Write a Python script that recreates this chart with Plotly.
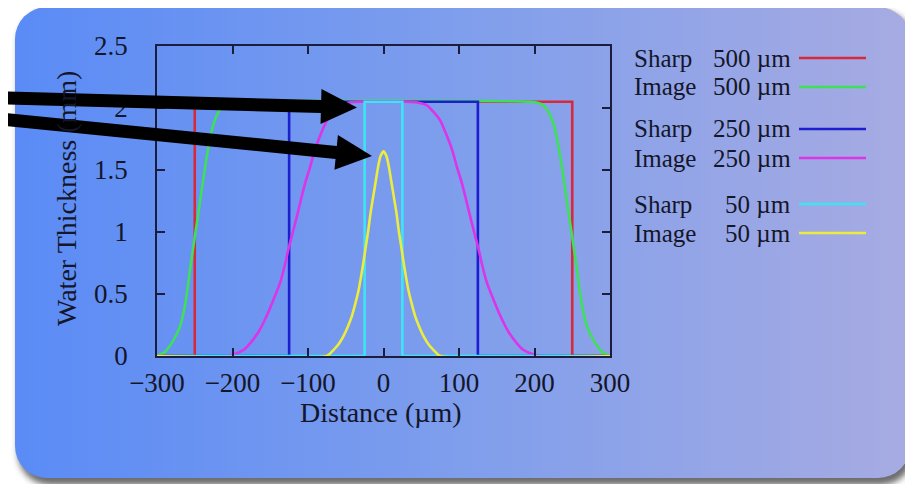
import base64
import math
import plotly.graph_objects as go

# ---------------- data ----------------
series_names = ["Sharp", "Image", "Sharp", "Image", "Sharp", "Image"]
series_sizes = ["500 µm", "500 µm", "250 µm", "250 µm", "50 µm", "50 µm"]
series_colors = ["#d8283c", "#3ee05a", "#1c1ed0", "#dc34e8", "#3ee4f4", "#ecec3c"]

sharp500_x = [-300, -250, -250, 250, 250, 300]
sharp500_y = [0, 0, 2.05, 2.05, 0, 0]

image500_x = [-300, -290, -280, -270, -262, -255, -248, -241, -234, -227, -220, -212, -205, -195,
              195, 205, 212, 220, 227, 234, 241, 248, 255, 262, 270, 280, 290, 300]
image500_y = [0.00, 0.03, 0.11, 0.23, 0.44, 0.75, 1.04, 1.33, 1.61, 1.83, 1.95, 2.02, 2.04, 2.05,
              2.05, 2.04, 2.02, 1.95, 1.83, 1.61, 1.33, 1.04, 0.75, 0.44, 0.23, 0.11, 0.03, 0.00]

sharp250_x = [-300, -125, -125, 125, 125, 300]
sharp250_y = [0, 0, 2.05, 2.05, 0, 0]

image250_x = [-300, -210, -195, -185, -177, -165, -155, -146, -137, -130, -126, -120, -115, -109,
              -104, -97, -91, -83, -75, -66, -58, -45, -30,
              30, 45, 58, 66, 75, 83, 91, 97, 104, 109, 115, 120, 126, 130, 137, 146, 155, 165,
              177, 185, 195, 210, 300]
image250_y = [0.00, 0.00, 0.02, 0.05, 0.10, 0.20, 0.32, 0.45, 0.59, 0.75, 0.86, 1.00, 1.12, 1.27,
              1.39, 1.53, 1.66, 1.79, 1.90, 1.97, 2.02, 2.045, 2.05,
              2.05, 2.045, 2.02, 1.97, 1.90, 1.79, 1.66, 1.53, 1.39, 1.27, 1.12, 1.00, 0.86, 0.75,
              0.59, 0.45, 0.32, 0.20, 0.10, 0.05, 0.02, 0.00, 0.00]

sharp50_x = [-300, -25, -25, 25, 25, 300]
sharp50_y = [0, 0, 2.05, 2.05, 0, 0]

image50_x = [-300, -75, -66, -60, -53, -47, -42, -37, -33, -30, -27, -23, -20, -17, -13.5, -10,
             -7, -4, 0, 4, 7, 10, 13.5, 17, 20, 23, 27, 30, 33, 37, 42, 47, 53, 60, 66, 75, 300]
image50_y = [0.00, 0.00, 0.05, 0.09, 0.16, 0.24, 0.32, 0.43, 0.53, 0.63, 0.74, 0.90, 1.02, 1.16,
             1.29, 1.42, 1.53, 1.61, 1.65, 1.61, 1.53, 1.42, 1.29, 1.16, 1.02, 0.90, 0.74, 0.63,
             0.53, 0.43, 0.32, 0.24, 0.16, 0.09, 0.05, 0.00, 0.00]

x_tickvals = [-300, -200, -100, 0, 100, 200, 300]
x_ticktext = ["\u2212300", "\u2212200", "\u2212100", "0", "100", "200", "300"]
y_tickvals = [0, 0.5, 1, 1.5, 2, 2.5]
y_ticktext = ["0", "0.5", "1", "1.5", "2", "2.5"]

x_title = "Distance (µm)"
y_title = "Water Thickness (mm)"

# ---------------- layout geometry (screen pixels) ----------------
W, H = 913, 484
L, R, T, B = 157, 610, 46, 356
BODY = 8  # default page margin around the plot div


def px2x(px):
    return (px - L) / (R - L)


def px2y(py):
    return (B - py) / (B - T)


FONT = "Liberation Serif"
TXT = "#14162a"

fig = go.Figure()

xs = [sharp500_x, image500_x, sharp250_x, image250_x, sharp50_x, image50_x]
ys = [sharp500_y, image500_y, sharp250_y, image250_y, sharp50_y, image50_y]
for i, (x, y) in enumerate(zip(xs, ys)):
    smooth = series_names[i] == "Image"
    fig.add_trace(go.Scatter(
        x=x, y=y, mode="lines",
        name=f"{series_names[i]} {series_sizes[i]}",
        line=dict(color=series_colors[i], width=2.6,
                  shape="spline" if smooth else "linear",
                  smoothing=0.6 if smooth else None),
        showlegend=False, hoverinfo="skip"))

# background panel as an SVG image (gradient rounded rectangle with shadow)
svg = f"""<svg xmlns='http://www.w3.org/2000/svg' width='{W}' height='{H}' viewBox='0 0 {W} {H}'>
<defs>
<linearGradient id='g' x1='0' x2='1' y1='0' y2='0'>
<stop offset='0' stop-color='#5a8bf6'/>
<stop offset='0.5' stop-color='#7f9eec'/>
<stop offset='1' stop-color='#a7abe2'/>
</linearGradient>
<filter id='s' x='-5%' y='-5%' width='110%' height='110%'><feGaussianBlur stdDeviation='3'/></filter>
</defs>
<rect x='0' y='0' width='{W}' height='{H}' fill='white'/>
<rect x='18' y='11' width='895' height='474' rx='32' ry='32' fill='#3a3a3a' opacity='0.75' filter='url(#s)'/>
<rect x='15' y='7' width='895' height='471' rx='32' ry='32' fill='url(#g)'/>
</svg>"""
src = "data:image/svg+xml;base64," + base64.b64encode(svg.encode()).decode()
fig.add_layout_image(dict(
    source=src, xref="paper", yref="paper",
    x=px2x(0), y=px2y(0), sizex=W / (R - L), sizey=H / (B - T),
    xanchor="left", yanchor="top", sizing="stretch", layer="below"))


# black arrows
def arrow_path(x0, y0, x1, y1, shaft=13, head_len=36, head_w=35):
    dx, dy = x1 - x0, y1 - y0
    d = math.hypot(dx, dy)
    ux, uy = dx / d, dy / d
    nx, ny = -uy, ux
    bx, by = x1 - ux * head_len, y1 - uy * head_len
    hs, hw = shaft / 2, head_w / 2
    pts = [(x0 + nx * hs, y0 + ny * hs), (bx + nx * hs, by + ny * hs),
           (bx + nx * hw, by + ny * hw), (x1, y1),
           (bx - nx * hw, by - ny * hw), (bx - nx * hs, by - ny * hs),
           (x0 - nx * hs, y0 - ny * hs)]
    return "M " + " L ".join(f"{px2x(px):.5f},{px2y(py):.5f}" for px, py in pts) + " Z"


for (a, b, c, d) in [(-10, 97.5, 357, 107.5), (-10, 118, 372, 156)]:
    fig.add_shape(type="path", path=arrow_path(a, b, c, d), xref="paper", yref="paper",
                  fillcolor="black", line=dict(width=0), layer="above")

# legend (gnuplot style: text then sample line)
legend_y = [58, 87, 129, 158, 204, 233]
for i, ly in enumerate(legend_y):
    fig.add_annotation(x=px2x(632), y=px2y(ly), xref="paper", yref="paper",
                       text=series_names[i], showarrow=False, xanchor="left", yanchor="middle",
                       font=dict(family=FONT, size=25, color=TXT))
    fig.add_annotation(x=px2x(793), y=px2y(ly), xref="paper", yref="paper",
                       text=series_sizes[i], showarrow=False, xanchor="right", yanchor="middle",
                       font=dict(family=FONT, size=25, color=TXT))
    fig.add_shape(type="line", xref="paper", yref="paper",
                  x0=px2x(799), x1=px2x(866), y0=px2y(ly), y1=px2y(ly),
                  line=dict(color=series_colors[i], width=2.6))

# axis titles
fig.add_annotation(x=px2x(381), y=px2y(412), xref="paper", yref="paper", text=x_title,
                   showarrow=False, xanchor="center", yanchor="middle",
                   font=dict(family=FONT, size=28, color=TXT))
fig.add_annotation(x=px2x(66), y=px2y(199), xref="paper", yref="paper", text=y_title,
                   showarrow=False, xanchor="center", yanchor="middle", textangle=-90,
                   font=dict(family=FONT, size=28, color=TXT))

axis_common = dict(showline=True, linecolor="#1a1e3c", linewidth=1.6, mirror="ticks",
                   ticks="inside", ticklen=8, tickwidth=1.6, tickcolor="#1a1e3c",
                   showgrid=False, zeroline=False,
                   tickfont=dict(family=FONT, size=27, color=TXT))

fig.update_layout(
    width=W - BODY, height=H - BODY, autosize=False,
    margin=dict(l=L - BODY, r=W - R, t=T - BODY, b=H - B, pad=0),
    paper_bgcolor="white", plot_bgcolor="rgba(0,0,0,0)",
    showlegend=False,
    xaxis=dict(range=[-300, 300], tickvals=x_tickvals, ticktext=x_ticktext,
               ticklabelstandoff=2, **axis_common),
    yaxis=dict(range=[0, 2.5], tickvals=y_tickvals, ticktext=y_ticktext,
               ticklabelstandoff=22, **axis_common),
)

fig.write_html("out.html")
